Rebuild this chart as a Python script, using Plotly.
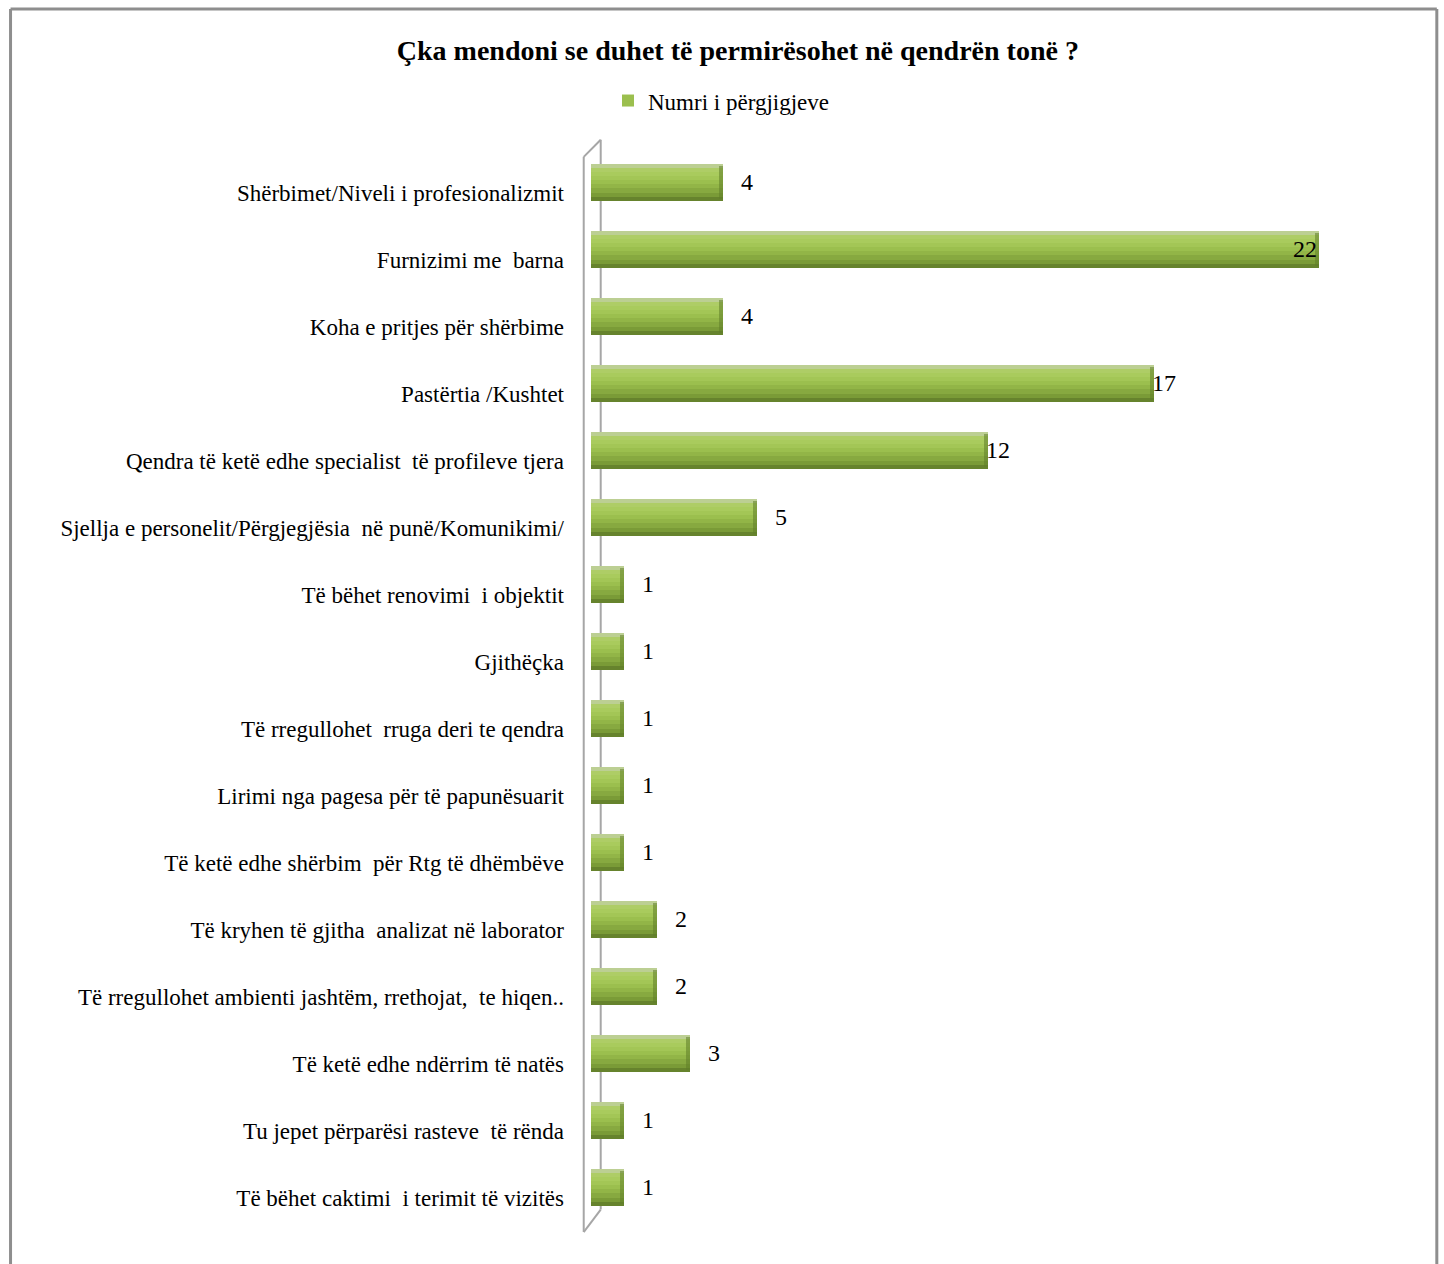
import plotly.graph_objects as go

# ---------------- data ----------------
title_text = "Çka mendoni se duhet të permirësohet në qendrën tonë ?"
series_name = "Numri i përgjigjeve"

categories = [
    "Shërbimet/Niveli i profesionalizmit",
    "Furnizimi me  barna",
    "Koha e pritjes për shërbime",
    "Pastërtia /Kushtet",
    "Qendra të ketë edhe specialist  të profileve tjera",
    "Sjellja e personelit/Përgjegjësia  në punë/Komunikimi/",
    "Të bëhet renovimi  i objektit",
    "Gjithëçka",
    "Të rregullohet  rruga deri te qendra",
    "Lirimi nga pagesa për të papunësuarit",
    "Të ketë edhe shërbim  për Rtg të dhëmbëve",
    "Të kryhen të gjitha  analizat në laborator",
    "Të rregullohet ambienti jashtëm, rrethojat,  te hiqen..",
    "Të ketë edhe ndërrim të natës",
    "Tu jepet përparësi rasteve  të rënda",
    "Të bëhet caktimi  i terimit të vizitës",
]
values = [4, 22, 4, 17, 12, 5, 1, 1, 1, 1, 1, 2, 2, 3, 1, 1]

# ---------------- style ----------------
FONT = "Liberation Serif, Times New Roman, serif"
band_colors = [
    "#bccf93", "#aecd66", "#a9cb5d", "#a3c656", "#9bbf4e",
    "#92b547", "#87a940", "#7a9b37", "#66832d",
]
BAR_TOP = -0.42      # offset of bar top from category centre (category units)
BAR_THICK = 0.54
bw = BAR_THICK / len(band_colors)

fig = go.Figure()
for k, c in enumerate(band_colors):
    main = (k == 4)
    fig.add_trace(go.Bar(
        y=categories, x=values, orientation="h",
        width=bw, offset=BAR_TOP + k * bw,
        marker=dict(color=c, line=dict(width=0)),
        name=series_name if main else f"band{k}",
        showlegend=main,
        hoverinfo=None if main else "skip",
    ))

# end caps (slightly darker ring at bar end)
fig.add_trace(go.Bar(
    y=categories, x=[0.12] * len(values), base=[v - 0.12 for v in values],
    orientation="h", width=BAR_THICK * 0.92, offset=BAR_TOP + BAR_THICK * 0.04,
    marker=dict(color="rgba(95,125,40,0.55)", line=dict(width=0)),
    showlegend=False, hoverinfo="skip",
))

# value labels
annotations = []
for cat, v in zip(categories, values):
    if v >= 20:
        anchor, shift = "right", 0
    elif v >= 10:
        anchor, shift = "left", -4
    else:
        anchor, shift = "left", 16
    annotations.append(dict(
        x=v, y=cat, xref="x", yref="y", text=str(v), showarrow=False,
        xanchor=anchor, xshift=shift, yshift=11,
        font=dict(family=FONT, size=24, color="#000000"),
    ))

wall = "#a6a6a6"
border = "#8e8e8e"
shapes = [
    # 3D wall outline
    dict(type="line", xref="paper", yref="paper", x0=-0.009, x1=-0.009, y0=1.002, y1=-0.001,
         line=dict(color=wall, width=2), layer="above"),
    dict(type="line", xref="paper", yref="paper", x0=0.012, x1=0.012, y0=1.018, y1=0.020,
         line=dict(color=wall, width=2), layer="below"),
    dict(type="line", xref="paper", yref="paper", x0=-0.009, x1=0.012, y0=1.002, y1=1.018,
         line=dict(color=wall, width=2), layer="above"),
    dict(type="line", xref="paper", yref="paper", x0=0.012, x1=-0.009, y0=0.020, y1=-0.001,
         line=dict(color=wall, width=2), layer="above"),
    # outer frame (left, top, right)
    dict(type="line", xref="paper", yref="paper", x0=-0.7175, x1=-0.7175, y0=1.140, y1=-0.05,
         line=dict(color=border, width=3)),
    dict(type="line", xref="paper", yref="paper", x0=-0.7175, x1=1.0455, y0=1.140, y1=1.140,
         line=dict(color=border, width=3)),
    dict(type="line", xref="paper", yref="paper", x0=1.0455, x1=1.0455, y0=1.140, y1=-0.05,
         line=dict(color=border, width=3)),
]

fig.update_layout(
    width=1444, height=1264,
    margin=dict(l=591, r=44, t=159, b=33),
    paper_bgcolor="white", plot_bgcolor="white",
    barmode="overlay", bargap=0,
    title=dict(text=f"<b>{title_text}</b>", x=0.511, xanchor="center",
               y=1 - 50 / 1264, yanchor="middle",
               font=dict(family=FONT, size=28, color="#000000")),
    legend=dict(orientation="h", x=0.021, xanchor="left", y=1.0545, yanchor="middle",
                font=dict(family=FONT, size=23, color="#000000"),
                bgcolor="rgba(0,0,0,0)", itemwidth=30),
    xaxis=dict(range=[0, 24.44], visible=False, fixedrange=True),
    yaxis=dict(autorange="reversed", showgrid=False, showline=False, zeroline=False,
               ticks="", ticklabelstandoff=26,
               tickfont=dict(family=FONT, size=23, color="#000000")),
    annotations=annotations,
    shapes=shapes,
)

fig.write_html("out.html")
